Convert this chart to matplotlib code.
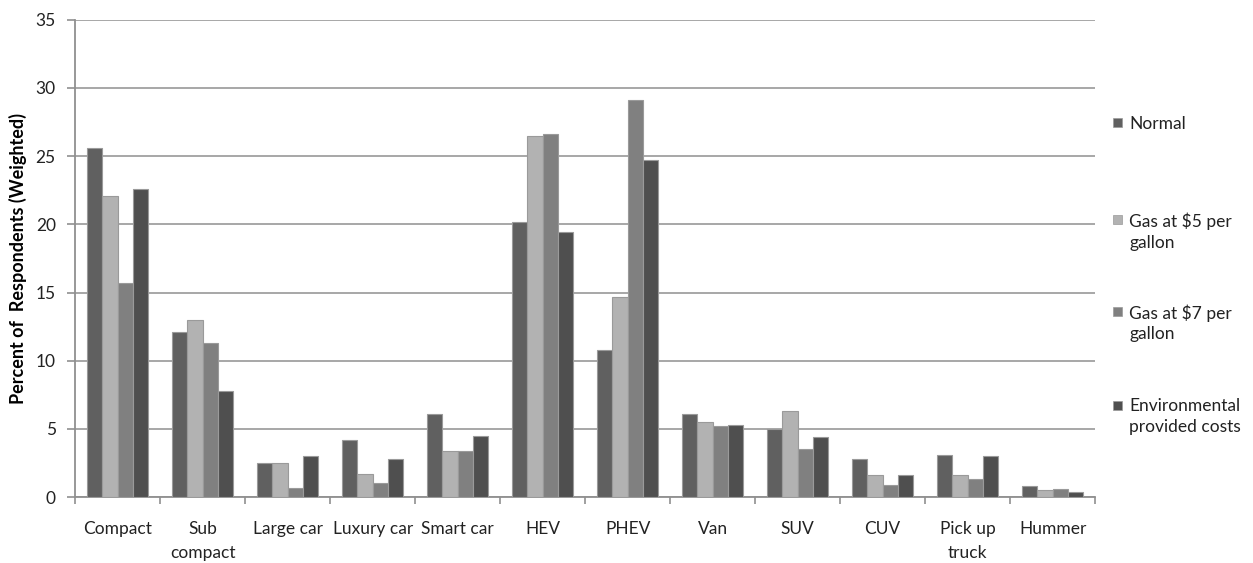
import matplotlib.pyplot as plt
import matplotlib.patches as mpatches
import numpy as np

plt.rcParams['font.family'] = ['Lato', 'DejaVu Sans']

categories = ["Compact", "Sub\ncompact", "Large car", "Luxury car", "Smart car", "HEV",
              "PHEV", "Van", "SUV", "CUV", "Pick up\ntruck", "Hummer"]
normal = [25.6, 12.1, 2.5, 4.2, 6.1, 20.2, 10.8, 6.1, 5.0, 2.8, 3.1, 0.8]
gas5 = [22.1, 13.0, 2.5, 1.7, 3.4, 26.5, 14.7, 5.5, 6.3, 1.6, 1.6, 0.5]
gas7 = [15.7, 11.3, 0.7, 1.0, 3.4, 26.6, 29.1, 5.2, 3.5, 0.9, 1.3, 0.6]
env = [22.6, 7.8, 3.0, 2.8, 4.5, 19.4, 24.7, 5.3, 4.4, 1.6, 3.0, 0.4]

series = [normal, gas5, gas7, env]
labels = ["Normal", "Gas at $5 per\ngallon", "Gas at $7 per\ngallon", "Environmental\nprovided costs"]
colors = ["#606060", "#b2b2b2", "#808080", "#4f4f4f"]

fig = plt.figure(figsize=(12.53, 5.63), dpi=100)
ax = fig.add_axes([0.06, 0.117, 0.814, 0.848])

x = np.arange(len(categories))
w = 0.18
for i, vals in enumerate(series):
    ax.bar(x + (i - 1.5) * w, vals, w, color=colors[i], edgecolor="#9a9a9a", linewidth=0.8, zorder=3)

ax.set_xlim(-0.5, len(categories) - 0.5)
ax.set_ylim(0, 35)
ax.set_yticks(range(0, 36, 5))
ax.yaxis.grid(True, color="#a0a0a0", linewidth=1.3, zorder=0)
ax.set_axisbelow(True)

ax.set_xticks(x)
ax.set_xticklabels(categories, fontsize=12.5, color="#222222", linespacing=1.6)
ax.set_xticks(np.arange(-0.5, len(categories)), minor=True)
ax.tick_params(axis='x', which='major', length=0, pad=17)
ax.tick_params(axis='x', which='minor', length=5, color="#909090", width=1.2, direction='out')
ax.tick_params(axis='y', length=6, color="#909090", width=1.2, labelsize=12.5, labelcolor="#222222", pad=8)

for s in ['top', 'right']:
    ax.spines[s].set_visible(False)
for s in ['left', 'bottom']:
    ax.spines[s].set_color("#909090")
    ax.spines[s].set_linewidth(1.3)

ax.set_ylabel("Percent of  Respondents (Weighted)", fontsize=13, fontweight='bold')
ax.yaxis.set_label_coords(-0.047, 0.5)

# legend entries placed to match the reference layout
leg_y = [123, 220, 311, 405]
for lab, c, yy in zip(labels, colors, leg_y):
    fy = 1 - yy / 563
    fig.patches.append(mpatches.Rectangle((1113 / 1253, fy - 4.5 / 563), 9 / 1253, 9 / 563,
                                          transform=fig.transFigure, facecolor=c, edgecolor="#9a9a9a", linewidth=0.5))
    fig.text(1129 / 1253, fy + 7 / 563, lab, fontsize=12.5, va='top', ha='left', color="#222222", linespacing=1.35)

fig.savefig("out.png", dpi=100)
